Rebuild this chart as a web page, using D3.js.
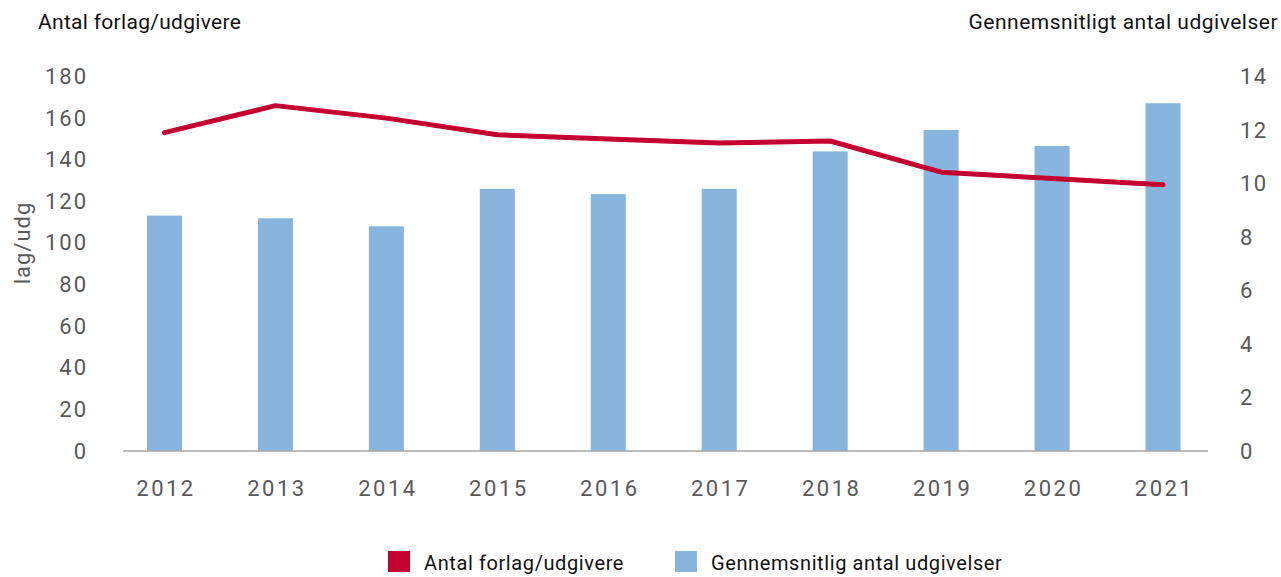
<!DOCTYPE html>
<html>
<head>
<meta charset="utf-8">
<script src="https://cdn.jsdelivr.net/npm/d3@7"></script>
<style>
  body { margin: 0; background: #fff; }
  svg text { font-family: Roboto, "Noto Sans", sans-serif; }
</style>
</head>
<body>
<svg width="1281" height="577"></svg>
<script>
var years = ["2012", "2013", "2014", "2015", "2016", "2017", "2018", "2019", "2020", "2021"];
// Antal forlag/udgivere (line, left axis)
var publishers = [153, 166, 160, 152, 150, 148, 149, 134, 131, 128];
// Gennemsnitlig antal udgivelser (bars, right axis)
var avgReleases = [8.8, 8.7, 8.4, 9.8, 9.6, 9.8, 11.2, 12.0, 11.4, 13.0];
var leftTicks = [0, 20, 40, 60, 80, 100, 120, 140, 160, 180];
var rightTicks = [0, 2, 4, 6, 8, 10, 12, 14];

var red = "#c3002f", blue = "#87b5dd", grey = "#595959";

var svg = d3.select("svg");

var x = d3.scalePoint().domain(years).range([164.5, 1163]);
var yLeft = d3.scaleLinear().domain([0, 180]).range([451, 76.5]);
var yRight = d3.scaleLinear().domain([0, 14]).range([451, 76.5]);
var barW = 35;

// bars
svg.append("g")
  .selectAll("rect")
  .data(avgReleases)
  .enter().append("rect")
  .attr("x", function(d, i) { return x(years[i]) - barW / 2; })
  .attr("y", function(d) { return yRight(d); })
  .attr("width", barW)
  .attr("height", function(d) { return yRight(0) - yRight(d); })
  .attr("fill", blue);

// baseline
svg.append("line")
  .attr("x1", 123).attr("x2", 1208)
  .attr("y1", yLeft(0)).attr("y2", yLeft(0))
  .attr("stroke", "#a6a6a6")
  .attr("stroke-width", 1.5);

// line
var line = d3.line()
  .x(function(d, i) { return x(years[i]); })
  .y(function(d) { return yLeft(d); });

svg.append("path")
  .datum(publishers)
  .attr("d", line)
  .attr("fill", "none")
  .attr("stroke", red)
  .attr("stroke-width", 5)
  .attr("stroke-linecap", "round")
  .attr("stroke-linejoin", "round");

// left axis
var axL = svg.append("g")
  .attr("transform", "translate(88,0)")
  .call(d3.axisLeft(yLeft).tickValues(leftTicks).tickSize(0).tickPadding(0));
axL.select(".domain").remove();
axL.selectAll("text").attr("fill", grey).style("font-size", "22px").style("letter-spacing", "2px");

// right axis
var axR = svg.append("g")
  .attr("transform", "translate(1240,0)")
  .call(d3.axisRight(yRight).tickValues(rightTicks).tickSize(0).tickPadding(0));
axR.select(".domain").remove();
axR.selectAll("text").attr("fill", grey).style("font-size", "22px").style("letter-spacing", "1.5px");

// x axis labels
var axX = svg.append("g")
  .attr("transform", "translate(1,480)")
  .call(d3.axisBottom(x).tickSize(0).tickPadding(0));
axX.select(".domain").remove();
axX.selectAll("text").attr("fill", grey).style("font-size", "22px").style("letter-spacing", "2.5px");

// axis titles
svg.append("text")
  .attr("x", 38).attr("y", 29)
  .attr("fill", "#111")
  .style("font-size", "21px")
  .style("letter-spacing", "0.3px")
  .text("Antal forlag/udgivere");

svg.append("text")
  .attr("x", 1278).attr("y", 29)
  .attr("text-anchor", "end")
  .attr("fill", "#111")
  .style("font-size", "21px")
  .style("letter-spacing", "0.5px")
  .text("Gennemsnitligt antal udgivelser");

svg.append("text")
  .attr("transform", "translate(30,243) rotate(-90)")
  .attr("text-anchor", "middle")
  .attr("fill", grey)
  .style("font-size", "22px")
  .style("letter-spacing", "1px")
  .text("lag/udg");

// legend
var legend = [
  { label: "Antal forlag/udgivere", color: red, x: 388 },
  { label: "Gennemsnitlig antal udgivelser", color: blue, x: 675 }
];
var lg = svg.append("g").selectAll("g")
  .data(legend)
  .enter().append("g")
  .attr("transform", function(d) { return "translate(" + d.x + ",551)"; });
lg.append("rect")
  .attr("width", 22).attr("height", 21)
  .attr("fill", function(d) { return d.color; });
lg.append("text")
  .attr("x", 36).attr("y", 19)
  .attr("fill", "#111")
  .style("font-size", "20px")
  .style("letter-spacing", "0.6px")
  .text(function(d) { return d.label; });
</script>
</body>
</html>
